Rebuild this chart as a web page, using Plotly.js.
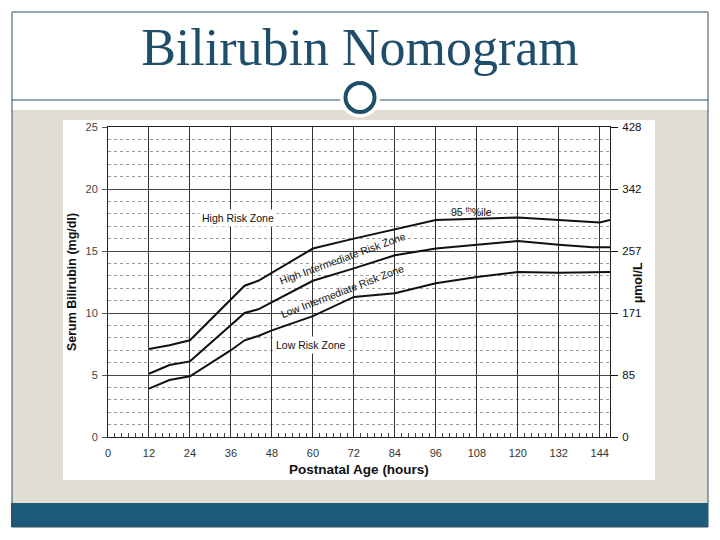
<!DOCTYPE html>
<html><head><meta charset="utf-8">
<script src="https://cdn.plot.ly/plotly-3.0.1.min.js"></script>
<style>html,body{margin:0;padding:0;background:#fff;} #chart{width:720px;height:540px;}</style>
</head><body><div id="chart"></div>
<script>
// ---- data ----
const hours95 = [12, 18, 24, 40, 44, 60, 72, 84, 96, 108, 120, 132, 144, 147];
const bili95  = [7.1, 7.4, 7.8, 12.2, 12.6, 15.2, 16.0, 16.75, 17.5, 17.6, 17.7, 17.5, 17.3, 17.5];

const hours75 = [12, 18, 24, 40, 44, 60, 72, 84, 96, 108, 120, 132, 142, 147];
const bili75  = [5.1, 5.8, 6.1, 10.0, 10.3, 12.6, 13.6, 14.65, 15.2, 15.5, 15.8, 15.5, 15.3, 15.3];

const hours40 = [12, 18, 24, 36, 40, 44, 48, 60, 72, 84, 96, 108, 120, 132, 147];
const bili40  = [3.9, 4.6, 4.9, 7.0, 7.8, 8.15, 8.6, 9.75, 11.3, 11.6, 12.4, 12.9, 13.3, 13.25, 13.3];

const hourTicks  = [0, 12, 24, 36, 48, 60, 72, 84, 96, 108, 120, 132, 144];
const mgTicks    = [0, 5, 10, 15, 20, 25];
const umolLabels = ['0', '85', '171', '257', '342', '428'];

// ---- pixel helpers for slide decoration ----
const L = 108, R = 610, T = 127, B = 437;
const px = x => (x - L) / (R - L);
const py = y => (B - y) / (B - T);
const teal = '#1f4e6b';
const sans = 'Liberation Sans, Arial, sans-serif';

function rect(x0, y0, x1, y1, fill, line) {
  return {type: 'rect', xref: 'paper', yref: 'paper', layer: 'below',
    x0: px(x0), x1: px(x1), y0: py(y1), y1: py(y0),
    fillcolor: fill || 'rgba(0,0,0,0)', line: line || {width: 0}};
}
function circ(cx, cy, r, fill, line) {
  return {type: 'circle', xref: 'paper', yref: 'paper', layer: 'below',
    x0: px(cx - r), x1: px(cx + r), y0: py(cy + r), y1: py(cy - r),
    fillcolor: fill, line: line || {width: 0}};
}

const shapes = [
  rect(12, 110, 708, 503, '#e2ddd2'),
  rect(11, 503, 708, 527, '#1e5a7b'),
  rect(12, 12, 708, 527, null, {color: '#2b4e63', width: 1}),
  {type: 'line', xref: 'paper', yref: 'paper', layer: 'below', x0: px(12), x1: px(708), y0: py(100), y1: py(100), line: {color: '#2b4e63', width: 1}},
  rect(63, 120, 655, 480, '#ffffff'),
  circ(360, 97.5, 20, '#ffffff'),
  circ(360, 97.5, 14.5, '#ffffff', {color: teal, width: 4})
];

const lineStyle = {color: '#111', width: 2};
const traces = [
  {x: hours95, y: bili95, mode: 'lines', line: lineStyle, hoverinfo: 'skip', showlegend: false},
  {x: hours75, y: bili75, mode: 'lines', line: lineStyle, hoverinfo: 'skip', showlegend: false},
  {x: hours40, y: bili40, mode: 'lines', line: lineStyle, hoverinfo: 'skip', showlegend: false},
  {x: [null], y: [null], yaxis: 'y2', mode: 'lines', hoverinfo: 'skip', showlegend: false}
];

const lblFont = {family: sans, size: 10.5, color: '#111'};
const annotations = [
  {x: 38.2, y: 17.7, xref: 'x', yref: 'y', text: 'High Risk Zone', showarrow: false, font: lblFont, bgcolor: '#ffffff', borderpad: 2},
  {x: 106.5, y: 18.2, xref: 'x', yref: 'y', text: '95 <sup>th</sup>%ile', showarrow: false, font: {family: sans, size: 10.5, color: '#111'}},
  {x: 68.8, y: 14.4, xref: 'x', yref: 'y', text: 'High Intermediate Risk Zone', textangle: -20, showarrow: false, font: lblFont},
  {x: 68.6, y: 11.75, xref: 'x', yref: 'y', text: 'Low Intermediate Risk Zone', textangle: -21, showarrow: false, font: lblFont},
  {x: 59.3, y: 7.45, xref: 'x', yref: 'y', text: 'Low Risk Zone', showarrow: false, font: lblFont, bgcolor: '#ffffff', borderpad: 2},
  {x: px(647), y: py(283), xref: 'paper', yref: 'paper', text: '\u00b5mol/L', textangle: -90, showarrow: false,
   font: {family: sans, size: 12.5, color: '#111', weight: 'bold'}}
];

const layout = {
  width: 720, height: 540,
  margin: {l: L, r: 720 - R, t: T, b: 540 - B, pad: 0},
  paper_bgcolor: '#ffffff', plot_bgcolor: '#ffffff',
  title: {text: 'Bilirubin Nomogram', xref: 'container', yref: 'container', x: 0.5, y: 1 - 47 / 540,
          xanchor: 'center', yanchor: 'middle', font: {family: 'Liberation Serif, Times New Roman, serif', size: 52, color: teal}},
  xaxis: {
    range: [0, 147], tickvals: hourTicks, ticktext: hourTicks.map(String),
    showgrid: true, gridcolor: '#333', gridwidth: 1, zeroline: false,
    showline: true, linecolor: '#222', linewidth: 1, mirror: true,
    ticks: 'inside', ticklen: 5, tickcolor: '#333', ticklabelstandoff: 6,
    minor: {tick0: 0, dtick: 2, ticks: 'inside', ticklen: 4, tickcolor: '#444', showgrid: false},
    tickfont: {family: sans, size: 11, color: '#333'},
    title: {text: 'Postnatal Age (hours)', standoff: 6, font: {family: sans, size: 13.5, color: '#111', weight: 'bold'}}
  },
  yaxis: {
    range: [0, 25], tickvals: mgTicks, ticktext: mgTicks.map(String),
    showgrid: true, gridcolor: '#444', gridwidth: 1, zeroline: false,
    showline: true, linecolor: '#222', linewidth: 1,
    ticks: 'outside', ticklen: 5, tickcolor: '#555', ticklabelstandoff: 2,
    minor: {tick0: 0, dtick: 1, showgrid: true, gridcolor: '#9a9a9a', griddash: 'dot', gridwidth: 1, ticks: ''},
    tickfont: {family: sans, size: 11, color: '#444'},
    title: {text: 'Serum Bilirubin (mg/dl)', standoff: 6, font: {family: sans, size: 12.5, color: '#111', weight: 'bold'}}
  },
  yaxis2: {
    overlaying: 'y', side: 'right', range: [0, 25], tickvals: mgTicks, ticktext: umolLabels,
    showgrid: false, zeroline: false, showline: true, linecolor: '#222', linewidth: 1,
    ticks: 'outside', ticklen: 7, tickcolor: '#111', ticklabelstandoff: 2,
    tickfont: {family: sans, size: 11.5, color: '#111'}
  },
  shapes: shapes,
  annotations: annotations,
  showlegend: false
};

Plotly.newPlot('chart', traces, layout, {staticPlot: true, displayModeBar: false});
</script></body></html>
